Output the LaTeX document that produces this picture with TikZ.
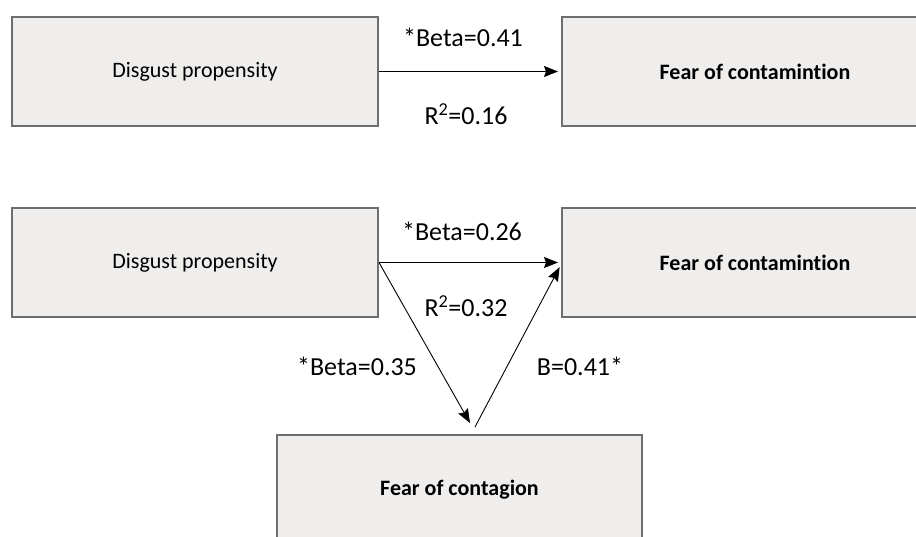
\documentclass[tikz,border=0pt]{standalone}
\usepackage{fontspec}
\setmainfont[Ligatures=NoCommon]{Carlito}
\usetikzlibrary{arrows.meta,positioning}
\definecolor{boxfill}{HTML}{EFEEEC}
\definecolor{boxline}{HTML}{6E6E6E}

\begin{document}
\begin{tikzpicture}[
  >={Stealth[length=14pt,width=11pt,inset=2pt]}, x=1pt, y=-1pt,
  factor/.style={rectangle,draw=boxline,fill=boxfill,line width=2pt,
    inner sep=0pt,font=\fontsize{22}{26}\selectfont},
  effect/.style={->,draw=black,line width=0.9pt,shorten >=3pt},
  coef/.style={anchor=base,inner sep=0pt,font=\fontsize{26}{30}\selectfont}]
\useasboundingbox (0,0) rectangle (916,537);
\clip (0,0) rectangle (916,537);
% simple model
\node[factor,minimum width=366pt,minimum height=109pt] (dp1) at (195,71.5) {Disgust propensity};
\node[factor,minimum width=386pt,minimum height=109pt] (foc1) at (755,71.5) {\bfseries Fear of contamintion};
\draw[effect] (dp1.east)--(foc1.west);
\node[coef] (b1) at (463,47) {*Beta=0.41};
\node[coef] (r1) at (466,125) {R\textsuperscript{2}=0.16};
% mediation model
\node[factor,minimum width=366pt,minimum height=109pt] (dp2) at (195,262.5) {Disgust propensity};
\node[factor,minimum width=386pt,minimum height=109pt] (foc2) at (755,262.5) {\bfseries Fear of contamintion};
\node[factor,minimum width=365pt,minimum height=110pt] (fcg) at (459.5,490) {\bfseries Fear of contagion};
\coordinate (downtip) at (470,423);
\coordinate (uptail) at (475,427);
\draw[effect] (dp2.east)--(foc2.west);
\draw[effect,shorten >=0pt] (dp2.east)--(downtip);
\draw[effect] (uptail)--([yshift=-2pt]foc2.west);
\node[coef] (b2) at (462,241) {*Beta=0.26};
\node[coef] (r2) at (466,317) {R\textsuperscript{2}=0.32};
\node[coef] (b3) at (357,375) {*Beta=0.35};
\node[coef] (b4) at (580,375) {B=0.41*};
\end{tikzpicture}
\end{document}
